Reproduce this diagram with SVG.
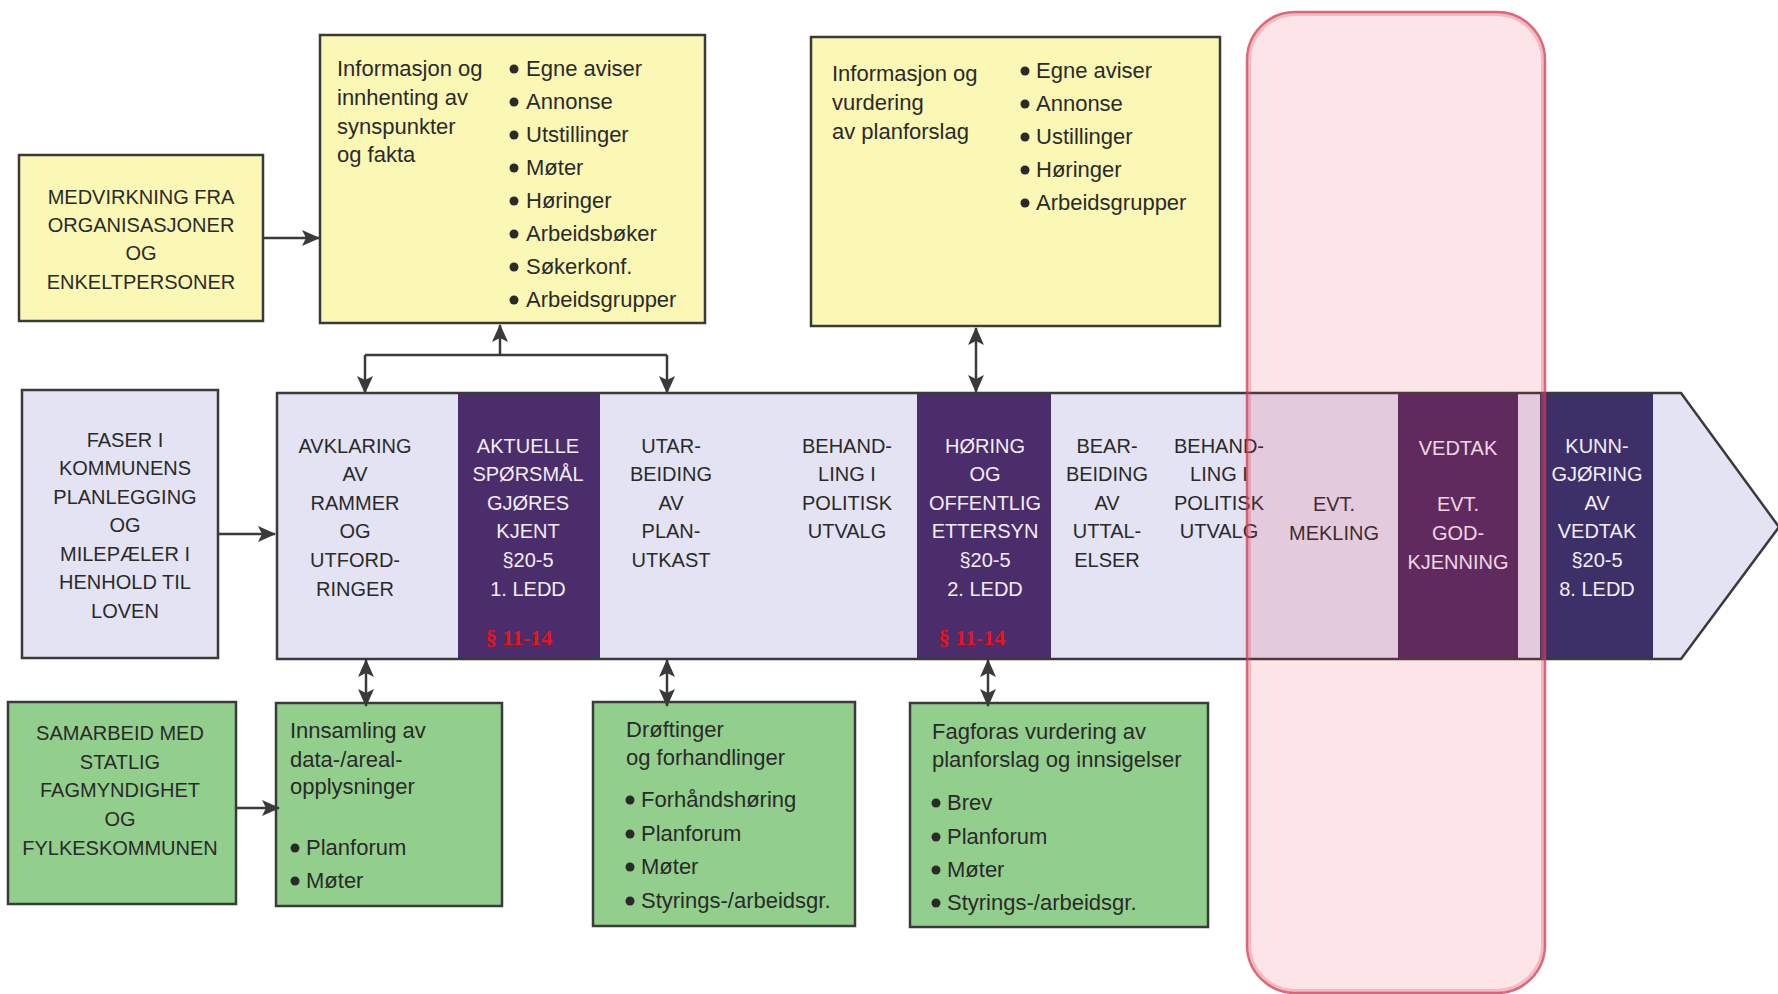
<svg xmlns="http://www.w3.org/2000/svg" width="1778" height="994" viewBox="0 0 1778 994">
<defs>
<marker id="ah" viewBox="0 0 18 16" refX="17" refY="8" markerWidth="18" markerHeight="16" markerUnits="userSpaceOnUse" orient="auto-start-reverse"><path d="M0,0 L18,8 L0,16 L4,8 z" fill="#3a3a3a"/></marker>
</defs>
<style>
.box{stroke:#3a3a3a;stroke-width:2.5}
.y{fill:#fbf7b4}
.g{fill:#92cf8c}
.l{fill:#e3e3f3}
.t{font-family:"Liberation Sans",Arial,sans-serif;font-size:22px;fill:#2a2a2a}
.u{font-family:"Liberation Sans",Arial,sans-serif;font-size:20px;fill:#2a2a2a;text-anchor:middle}
.w{fill:#f2eef8}
.p{font-family:"Liberation Serif","Times New Roman",serif;font-weight:bold;font-size:22px;fill:#e8141c;text-anchor:middle}
.c{fill:none;stroke:#3a3a3a;stroke-width:2.5}
.b{fill:#2a2a2a}
.dk{fill:#4a2d6a}
</style>
<rect width="1778" height="994" fill="#ffffff"/>

<g id="medvirkning">
<rect class="box y" x="19" y="155" width="244" height="166"/>
<text class="u" x="141"><tspan x="141" y="204">MEDVIRKNING FRA</tspan><tspan x="141" y="232">ORGANISASJONER</tspan><tspan x="141" y="260">OG</tspan><tspan x="141" y="289">ENKELTPERSONER</tspan></text>
</g>

<g id="info1">
<rect class="box y" x="320" y="35" width="385" height="288"/>
<text class="t"><tspan x="337" y="76">Informasjon og</tspan><tspan x="337" y="105">innhenting av</tspan><tspan x="337" y="134">synspunkter</tspan><tspan x="337" y="162">og fakta</tspan></text>
<g class="b"><circle cx="514" cy="69" r="4.5"/><circle cx="514" cy="102" r="4.5"/><circle cx="514" cy="135" r="4.5"/><circle cx="514" cy="168" r="4.5"/><circle cx="514" cy="201" r="4.5"/><circle cx="514" cy="234" r="4.5"/><circle cx="514" cy="267" r="4.5"/><circle cx="514" cy="300" r="4.5"/></g>
<text class="t"><tspan x="526" y="76">Egne aviser</tspan><tspan x="526" y="109">Annonse</tspan><tspan x="526" y="142">Utstillinger</tspan><tspan x="526" y="175">Møter</tspan><tspan x="526" y="208">Høringer</tspan><tspan x="526" y="241">Arbeidsbøker</tspan><tspan x="526" y="274">Søkerkonf.</tspan><tspan x="526" y="307">Arbeidsgrupper</tspan></text>
</g>

<g id="info2">
<rect class="box y" x="811" y="37" width="409" height="289"/>
<text class="t"><tspan x="832" y="81">Informasjon og</tspan><tspan x="832" y="110">vurdering</tspan><tspan x="832" y="139">av planforslag</tspan></text>
<g class="b"><circle cx="1025" cy="71" r="4.5"/><circle cx="1025" cy="104" r="4.5"/><circle cx="1025" cy="137" r="4.5"/><circle cx="1025" cy="170" r="4.5"/><circle cx="1025" cy="203" r="4.5"/></g>
<text class="t"><tspan x="1036" y="78">Egne aviser</tspan><tspan x="1036" y="111">Annonse</tspan><tspan x="1036" y="144">Ustillinger</tspan><tspan x="1036" y="177">Høringer</tspan><tspan x="1036" y="210">Arbeidsgrupper</tspan></text>
</g>

<g id="faser">
<rect class="box l" x="22" y="390" width="196" height="268"/>
<text class="u"><tspan x="125" y="447">FASER I</tspan><tspan x="125" y="475">KOMMUNENS</tspan><tspan x="125" y="504">PLANLEGGING</tspan><tspan x="125" y="532">OG</tspan><tspan x="125" y="561">MILEPÆLER I</tspan><tspan x="125" y="589">HENHOLD TIL</tspan><tspan x="125" y="618">LOVEN</tspan></text>
</g>

<g id="process">
<polygon class="l" points="277,393 1681,393 1779,527 1681,659 277,659"/>
<rect class="dk" x="458" y="393" width="142" height="266"/>
<rect class="dk" x="917" y="393" width="134" height="266"/>
<rect fill="#4e2a62" x="1398" y="393" width="120" height="266"/>
<rect fill="#3d3069" x="1540" y="393" width="113" height="266"/>
<polygon fill="none" stroke="#3a3a3a" stroke-width="2.5" points="277,393 1681,393 1779,527 1681,659 277,659"/>
</g>

<g id="avklaring"><text class="u"><tspan x="355" y="453">AVKLARING</tspan><tspan x="355" y="481">AV</tspan><tspan x="355" y="510">RAMMER</tspan><tspan x="355" y="538">OG</tspan><tspan x="355" y="567">UTFORD-</tspan><tspan x="355" y="596">RINGER</tspan></text></g>
<g id="aktuelle"><text class="u w"><tspan x="528" y="453">AKTUELLE</tspan><tspan x="528" y="481">SPØRSMÅL</tspan><tspan x="528" y="510">GJØRES</tspan><tspan x="528" y="538">KJENT</tspan><tspan x="528" y="567">§20-5</tspan><tspan x="528" y="596">1. LEDD</tspan></text><text class="p" x="519" y="645">§ 11-14</text></g>
<g id="utarbeiding"><text class="u"><tspan x="671" y="453">UTAR-</tspan><tspan x="671" y="481">BEIDING</tspan><tspan x="671" y="510">AV</tspan><tspan x="671" y="538">PLAN-</tspan><tspan x="671" y="567">UTKAST</tspan></text></g>
<g id="behandling1"><text class="u"><tspan x="847" y="453">BEHAND-</tspan><tspan x="847" y="481">LING I</tspan><tspan x="847" y="510">POLITISK</tspan><tspan x="847" y="538">UTVALG</tspan></text></g>
<g id="horing"><text class="u w"><tspan x="985" y="453">HØRING</tspan><tspan x="985" y="481">OG</tspan><tspan x="985" y="510">OFFENTLIG</tspan><tspan x="985" y="538">ETTERSYN</tspan><tspan x="985" y="567">§20-5</tspan><tspan x="985" y="596">2. LEDD</tspan></text><text class="p" x="972" y="645">§ 11-14</text></g>
<g id="bearbeiding"><text class="u"><tspan x="1107" y="453">BEAR-</tspan><tspan x="1107" y="481">BEIDING</tspan><tspan x="1107" y="510">AV</tspan><tspan x="1107" y="538">UTTAL-</tspan><tspan x="1107" y="567">ELSER</tspan></text></g>
<g id="behandling2"><text class="u"><tspan x="1219" y="453">BEHAND-</tspan><tspan x="1219" y="481">LING I</tspan><tspan x="1219" y="510">POLITISK</tspan><tspan x="1219" y="538">UTVALG</tspan></text></g>
<g id="mekling"><text class="u"><tspan x="1334" y="511">EVT.</tspan><tspan x="1334" y="540">MEKLING</tspan></text></g>
<g id="vedtak"><text class="u w"><tspan x="1458" y="455">VEDTAK</tspan><tspan x="1458" y="511">EVT.</tspan><tspan x="1458" y="540">GOD-</tspan><tspan x="1458" y="569">KJENNING</tspan></text></g>
<g id="kunngjoring"><text class="u w"><tspan x="1597" y="453">KUNN-</tspan><tspan x="1597" y="481">GJØRING</tspan><tspan x="1597" y="510">AV</tspan><tspan x="1597" y="538">VEDTAK</tspan><tspan x="1597" y="567">§20-5</tspan><tspan x="1597" y="596">8. LEDD</tspan></text></g>

<g id="samarbeid">
<rect class="box g" x="8" y="702" width="228" height="202"/>
<text class="u"><tspan x="120" y="740">SAMARBEID MED</tspan><tspan x="120" y="769">STATLIG</tspan><tspan x="120" y="797">FAGMYNDIGHET</tspan><tspan x="120" y="826">OG</tspan><tspan x="120" y="855">FYLKESKOMMUNEN</tspan></text>
</g>

<g id="innsamling">
<rect class="box g" x="276" y="703" width="226" height="203"/>
<text class="t"><tspan x="290" y="738">Innsamling av</tspan><tspan x="290" y="767">data-/areal-</tspan><tspan x="290" y="794">opplysninger</tspan></text>
<g class="b"><circle cx="295" cy="848" r="4.5"/><circle cx="295" cy="881" r="4.5"/></g>
<text class="t"><tspan x="306" y="855">Planforum</tspan><tspan x="306" y="888">Møter</tspan></text>
</g>

<g id="droftinger">
<rect class="box g" x="593" y="702" width="262" height="224"/>
<text class="t"><tspan x="626" y="737">Drøftinger</tspan><tspan x="626" y="765">og forhandlinger</tspan></text>
<g class="b"><circle cx="630" cy="800" r="4.5"/><circle cx="630" cy="834" r="4.5"/><circle cx="630" cy="867" r="4.5"/><circle cx="630" cy="901" r="4.5"/></g>
<text class="t"><tspan x="641" y="807">Forhåndshøring</tspan><tspan x="641" y="841">Planforum</tspan><tspan x="641" y="874">Møter</tspan><tspan x="641" y="908">Styrings-/arbeidsgr.</tspan></text>
</g>

<g id="fagforas">
<rect class="box g" x="910" y="703" width="298" height="224"/>
<text class="t"><tspan x="932" y="739">Fagforas vurdering av</tspan><tspan x="932" y="767">planforslag og innsigelser</tspan></text>
<g class="b"><circle cx="936" cy="803" r="4.5"/><circle cx="936" cy="837" r="4.5"/><circle cx="936" cy="870" r="4.5"/><circle cx="936" cy="903" r="4.5"/></g>
<text class="t"><tspan x="947" y="810">Brev</tspan><tspan x="947" y="844">Planforum</tspan><tspan x="947" y="877">Møter</tspan><tspan x="947" y="910">Styrings-/arbeidsgr.</tspan></text>
</g>

<g id="connectors">
<path class="c" d="M263,238 H319" marker-end="url(#ah)"/>
<path class="c" d="M500,355 V325" marker-end="url(#ah)"/>
<path class="c" d="M365,355 H667"/>
<path class="c" d="M365,355 V393" marker-end="url(#ah)"/>
<path class="c" d="M667,355 V393" marker-end="url(#ah)"/>
<path class="c" d="M976,328 V392" marker-start="url(#ah)" marker-end="url(#ah)"/>
<path class="c" d="M218,534 H275" marker-end="url(#ah)"/>
<path class="c" d="M366,660 V706" marker-start="url(#ah)" marker-end="url(#ah)"/>
<path class="c" d="M667,660 V706" marker-start="url(#ah)" marker-end="url(#ah)"/>
<path class="c" d="M988,660 V706" marker-start="url(#ah)" marker-end="url(#ah)"/>
<path class="c" d="M236,808 H279" marker-end="url(#ah)"/>
</g>

<g id="highlight">
<rect x="1247" y="12" width="298" height="981" rx="48" fill="#e8324a" fill-opacity="0.13" stroke="#d03a50" stroke-opacity="0.75" stroke-width="2.5"/>
<rect x="1249.5" y="14.5" width="293" height="976" rx="46" fill="none" stroke="#e05a6a" stroke-opacity="0.3" stroke-width="3"/>
</g>
</svg>
